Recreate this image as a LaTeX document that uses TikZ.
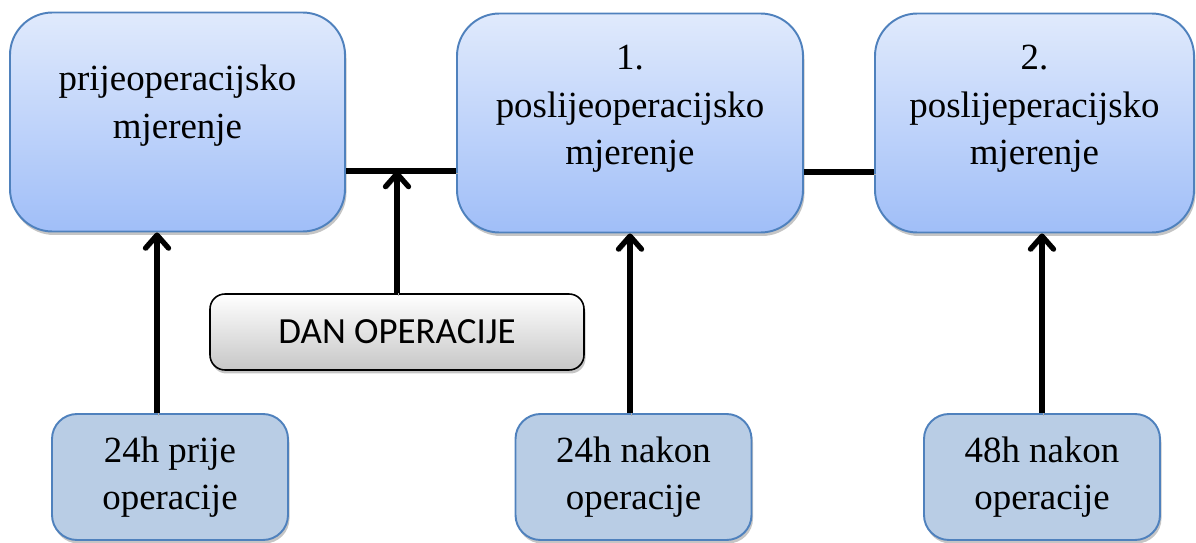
\documentclass[tikz,border=0pt]{standalone}
\usepackage{fontspec}
\setmainfont{Liberation Serif}
\newfontfamily\dayfont{Carlito}
\usetikzlibrary{arrows.meta, positioning, shadows}

\definecolor{boxtop}{RGB}{224,234,252}
\definecolor{boxbottom}{RGB}{160,190,248}
\definecolor{boxedge}{RGB}{79,129,189}
\definecolor{timefill}{RGB}{185,205,229}

\begin{document}
\begin{tikzpicture}[
    every node/.style={align=center, font=\fontsize{21}{27}\selectfont},
    measure/.style={draw=boxedge, line width=1.1pt, rounded corners=0.85cm, top color=boxtop, bottom color=boxbottom, minimum height=4.38cm, drop shadow={shadow xshift=0.03cm, shadow yshift=-0.07cm, fill=black!45}},
    timebox/.style={draw=boxedge, line width=1.1pt, rounded corners=0.5cm, fill=timefill, minimum width=4.72cm, minimum height=2.52cm, drop shadow={shadow xshift=0.03cm, shadow yshift=-0.07cm, fill=black!45}},
    daybox/.style={draw=black, line width=0.9pt, rounded corners=0.3cm, top color=white, bottom color=black!22, minimum width=7.48cm, minimum height=1.52cm, font=\dayfont\fontsize{21}{27}\selectfont, drop shadow={shadow xshift=0.03cm, shadow yshift=-0.07cm, fill=black!45}},
    link/.style={line width=3pt, preaction={draw=black!30, transform canvas={shift={(0.03cm,-0.05cm)}}}},
    arrow/.style={link, -{Straight Barb[length=2.6mm, width=4.6mm, round]}}
]
\useasboundingbox (0,0) rectangle (23.92,-10.86);

% Nodes
\node[measure, minimum width=6.7cm, text depth=0.82cm] (pre) at (3.55,-2.44) {prijeoperacijsko\\mjerenje};
\node[measure, minimum width=6.92cm, text depth=0.72cm] (post1) at (12.6,-2.46) {1.\\poslijeoperacijsko\\mjerenje};
\node[measure, minimum width=6.38cm, text depth=0.72cm] (post2) at (20.69,-2.46) {2.\\poslijeperacijsko\\mjerenje};
\node[daybox] (day) at (7.94,-6.64) {DAN OPERACIJE};
\node[timebox] (before) at (3.4,-9.54) {24h prije\\operacije};
\node[timebox] (after24) at (12.67,-9.54) {24h nakon\\operacije};
\node[timebox] (after48) at (20.84,-9.54) {48h nakon\\operacije};

\coordinate (joinab) at ([yshift=-0.98cm]pre.east);
\coordinate (joinbc) at ([yshift=-0.98cm]post1.east);

% Connectors
\draw[link] (joinab) -- (joinab -| post1.west);
\draw[link] (joinbc) -- (joinbc -| post2.west);
\draw[arrow] (day.north) -- (day.north |- joinab);
\draw[arrow] ([xshift=-0.26cm]before.north) -- ([xshift=-0.26cm]before.north |- pre.south);
\draw[arrow] (post1.south |- after24.north) -- (post1.south);
\draw[arrow] (after48.north) -- (after48.north |- post2.south);

\end{tikzpicture}
\end{document}
